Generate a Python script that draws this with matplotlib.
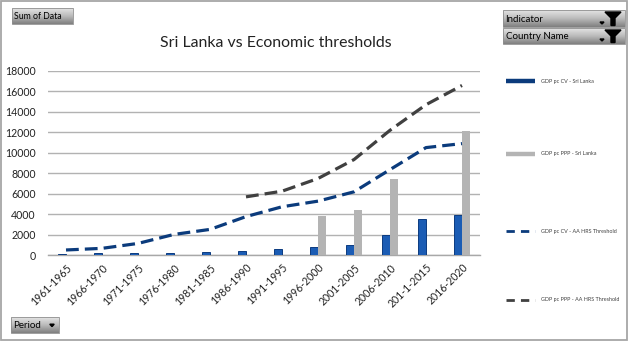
import numpy as np
import matplotlib
matplotlib.use("Agg")
import matplotlib.pyplot as plt
from matplotlib.lines import Line2D
from matplotlib.patches import Rectangle, Polygon

plt.rcParams['font.family'] = ['Lato', 'DejaVu Sans']

# ---- data -------------------------------------------------------------
periods = ["1961-1965", "1966-1970", "1971-1975", "1976-1980", "1981-1985",
           "1986-1990", "1991-1995", "1996-2000", "2001-2005", "2006-2010",
           "201-1-2015", "2016-2020"]
gdp_cv_sri_lanka = [100, 160, 200, 230, 330, 400, 580, 810, 1010, 1980, 3510, 3860]
gdp_ppp_sri_lanka = [np.nan, np.nan, np.nan, np.nan, np.nan, np.nan, np.nan,
                     3830, 4380, 7400, np.nan, 12140]
gdp_cv_threshold = [490, 650, 1130, 2010, 2500, 3750, 4710, 5260, 6170, 8340,
                    10490, 10880]
gdp_ppp_threshold = [np.nan, np.nan, np.nan, np.nan, np.nan, 5680, 6230, 7470,
                     9320, 12180, 14680, 16560]
series_labels = ["GDP pc CV - Sri Lanka", "GDP pc PPP - Sri Lanka",
                 "GDP pc CV - AA HRS Threshold", "GDP pc PPP - AA HRS Threshold"]
y_ticks = list(range(0, 18001, 2000))

BLUE = "#1b5cb4"
BLUE_EDGE = "#0c3b80"
GREY = "#b4b4b4"
NAVY = "#0b3b7c"
DARK = "#404040"

W, H = 629, 342
fig = plt.figure(figsize=(W / 100, H / 100), dpi=100)
fig.patch.set_facecolor("white")

# overlay in pixel coordinates for frame, buttons and legend
ov = fig.add_axes([0, 0, 1, 1], zorder=0)
ov.set_xlim(0, W)
ov.set_ylim(H, 0)
ov.axis("off")
ov.add_patch(Rectangle((0.8, 0.8), W - 2.6, H - 2.6, fill=False,
                       edgecolor="#a6a6a6", lw=1.3))

grad = np.linspace(0, 1, 32).reshape(-1, 1)
btn_cmap = matplotlib.colors.LinearSegmentedColormap.from_list(
    "btn", ["#e4e4e4", "#bababa", "#808080"])


def button(x, y, w, h, text, arrow=False, funnel=False, fs=6.3):
    ov.imshow(grad, cmap=btn_cmap, extent=(x, x + w, y + h, y), aspect="auto",
              zorder=2)
    ov.add_patch(Rectangle((x, y), w, h, fill=False, edgecolor="#8f8f8f",
                           lw=0.6, zorder=3))
    ov.text(x + 2.5, y + h / 2 + 0.5, text, fontsize=fs, ha="left",
            va="center", color="black", zorder=4)
    if arrow:
        ax_ = x + w - 7
        ov.add_patch(Polygon([[ax_ - 2.2, y + h / 2 - 0.8],
                              [ax_ + 2.2, y + h / 2 - 0.8],
                              [ax_, y + h / 2 + 1.6]], closed=True,
                             color="black", zorder=4))
    if funnel:
        fx = x + w - 12
        ov.add_patch(Polygon([[fx - 8, y + 2], [fx + 8, y + 2], [fx + 2, y + 8],
                              [fx + 2, y + h - 1.5], [fx - 2, y + h - 1.5],
                              [fx - 2, y + 8]], closed=True, color="black",
                             zorder=4))
        ov.add_patch(Polygon([[fx - 13, y + h - 5], [fx - 9, y + h - 5],
                              [fx - 11, y + h - 3]], closed=True,
                             color="black", zorder=4))


button(12, 8, 61, 16, "Sum of Data")
button(503, 10, 122, 17, "Indicator", funnel=True, fs=7)
button(503, 28, 122, 16, "Country Name", funnel=True, fs=7)
button(11, 317, 48, 16, "Period", arrow=True, fs=7)

# ---- main chart -------------------------------------------------------
ax = fig.add_axes([48 / W, 87 / H, 432 / W, 184.3 / H], zorder=1)
ax.set_facecolor("none")
x = np.arange(len(periods))
bw = 0.233
ax.bar(x - bw / 2, gdp_cv_sri_lanka, bw, color=BLUE, edgecolor=BLUE_EDGE,
       linewidth=0.7, zorder=3)
ax.bar(x + bw / 2, gdp_ppp_sri_lanka, bw, color=GREY, linewidth=0, zorder=3)
ax.plot(x, gdp_cv_threshold, color=NAVY, lw=2.3, dashes=(4, 1.9),
        dash_capstyle="butt", zorder=4)
ax.plot(x, gdp_ppp_threshold, color=DARK, lw=2.3, dashes=(4, 1.9),
        dash_capstyle="butt", zorder=4)

ax.set_xlim(-0.5, len(periods) - 0.5)
ax.set_ylim(0, 18000)
ax.set_yticks(y_ticks)
ax.set_yticklabels([str(v) for v in y_ticks], fontsize=7.6, color="#222222")
ax.yaxis.grid(True, color="#b2b2b2", lw=1.0, zorder=0)
ax.set_axisbelow(True)
for s in ["left", "right", "top"]:
    ax.spines[s].set_visible(False)
ax.spines["bottom"].set_color("#a8a8a8")
ax.spines["bottom"].set_linewidth(1.0)
ax.tick_params(axis="y", length=0, pad=9)
ax.tick_params(axis="x", length=0, pad=5)
ax.set_xticks(x)
ax.set_xticklabels(periods, rotation=45, ha="right", rotation_mode="anchor",
                   fontsize=7.6, color="#222222")

fig.text(276 / W, 1 - 43 / H, "Sri Lanka vs Economic thresholds",
         ha="center", va="center", fontsize=11.4, color="#222222")

# ---- legend -----------------------------------------------------------
legend_rows = [81, 154, 231, 300]
styles = [dict(color=NAVY, lw=3.2),
          dict(color=GREY, lw=3.2),
          dict(color=NAVY, lw=2.0, dashes=(3, 2.2)),
          dict(color=DARK, lw=2.0, dashes=(3, 2.2))]
for yy, lab, st in zip(legend_rows, series_labels, styles):
    ov.add_line(Line2D([506, 535], [yy, yy], solid_capstyle="butt",
                       dash_capstyle="butt", zorder=3, **st))
    ov.text(541, yy, lab, fontsize=3.9, ha="left", va="center", color=DARK,
            zorder=3)

fig.savefig("out.png", dpi=100, facecolor="white")
